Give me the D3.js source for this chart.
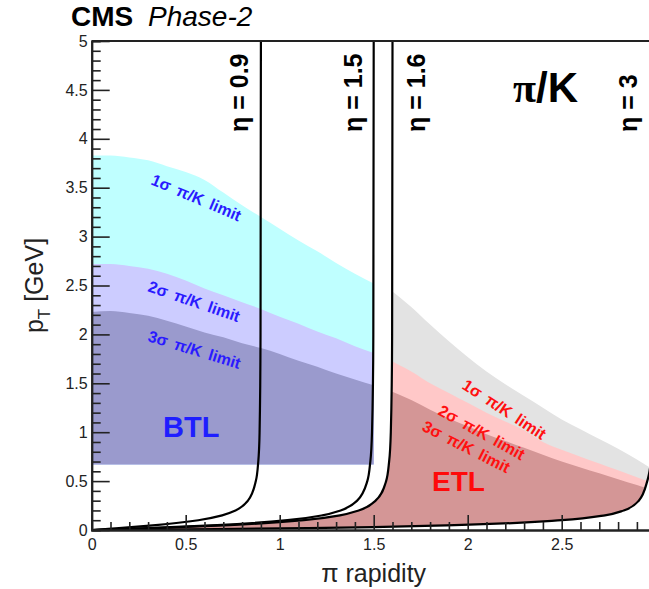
<!DOCTYPE html>
<html>
<head>
<meta charset="utf-8">
<script src="https://cdn.jsdelivr.net/npm/d3@7"></script>
<style>
  body { margin: 0; background: #fff; }
  text { font-family: "Liberation Sans", Arial, Helvetica, sans-serif; }
</style>
</head>
<body>
<div id="chart"></div>
<script>
// pT grid (GeV) used for the constant-eta curves
var ptGrid  = [0, 0.01, 0.02, 0.05, 0.1, 0.15, 0.2, 0.3, 0.5, 0.7, 1, 2, 5];
// pion rapidity reached by each eta boundary at those pT values
var eta09 = [0, 0.073, 0.145, 0.34, 0.567, 0.694, 0.765, 0.831, 0.873, 0.886, 0.893, 0.898, 0.9];
var eta15 = [0, 0.152, 0.298, 0.667, 1.041, 1.227, 1.324, 1.412, 1.466, 1.482, 1.491, 1.498, 1.5];
var eta16 = [0, 0.169, 0.331, 0.734, 1.128, 1.320, 1.420, 1.510, 1.566, 1.582, 1.591, 1.598, 1.6];
var eta30 = [0, 0.666, 1.15, 1.93, 2.50, 2.73, 2.83, 2.91, 2.955, 2.975, 2.988, 2.997, 3.0];

// BTL pi/K separation limits (pT vs rapidity)
var btlRap = [0, 0.1, 0.2, 0.3, 0.4, 0.5, 0.6, 0.7, 0.8, 0.9, 1.0, 1.1, 1.2, 1.3, 1.4, 1.5];
var btl1s  = [3.83, 3.83, 3.81, 3.78, 3.72, 3.66, 3.58, 3.45, 3.32, 3.20, 3.08, 2.96, 2.85, 2.73, 2.62, 2.52];
var btl2s  = [2.72, 2.72, 2.70, 2.67, 2.62, 2.55, 2.47, 2.40, 2.33, 2.26, 2.18, 2.11, 2.03, 1.96, 1.88, 1.81];
var btl3s  = [2.23, 2.24, 2.22, 2.19, 2.14, 2.08, 2.02, 1.97, 1.91, 1.86, 1.80, 1.73, 1.67, 1.60, 1.54, 1.48];
var btlMin = 0.67;

// ETL pi/K separation limits
var etlRap = [1.58, 1.7, 1.8, 1.9, 2.0, 2.1, 2.2, 2.3, 2.4, 2.5, 2.6, 2.7, 2.8, 2.9, 3.0];
var etl1s  = [2.47, 2.28, 2.10, 1.93, 1.77, 1.62, 1.49, 1.37, 1.25, 1.13, 1.03, 0.93, 0.83, 0.72, 0.60];
var etl2s  = [1.74, 1.62, 1.50, 1.40, 1.30, 1.20, 1.11, 1.02, 0.90, 0.82, 0.75, 0.68, 0.61, 0.54, 0.47];
var etl3s  = [1.43, 1.33, 1.23, 1.14, 1.06, 0.98, 0.91, 0.84, 0.77, 0.70, 0.64, 0.58, 0.52, 0.46, 0.40];

var etaNames = ["η = 0.9", "η = 1.5", "η = 1.6", "η = 3"];
var limitNames = ["1σ π/K limit", "2σ π/K limit", "3σ π/K limit"];
var xTicks = [0, 0.5, 1, 1.5, 2, 2.5];
var yTicks = [0, 0.5, 1, 1.5, 2, 2.5, 3, 3.5, 4, 4.5, 5];

var width = 649, height = 589;
var svg = d3.select("#chart").append("svg")
	.attr("width", width)
	.attr("height", height);

var x = d3.scaleLinear().domain([0, 3]).range([91.7, 655.7]);
var y = d3.scaleLinear().domain([0, 5]).range([530, 41]);

function pts(rap, pt) {
	return rap.map(function(r, i) { return [r, pt[i]]; });
}

var curve = d3.line()
	.x(function(d) { return x(d[0]); })
	.y(function(d) { return y(d[1]); })
	.curve(d3.curveMonotoneY);

// clip: plot frame
var defs = svg.append("defs");
defs.append("clipPath").attr("id", "frame")
	.append("rect")
	.attr("x", x(0)).attr("y", y(5))
	.attr("width", x(3) - x(0)).attr("height", y(0) - y(5));

// clip: region between eta=1.6 and eta=3
var e16 = pts(eta16, ptGrid), e30 = pts(eta30, ptGrid).reverse();
defs.append("clipPath").attr("id", "etl")
	.append("path")
	.attr("d", curve(e16) + curve(e30).replace(/^M/, "L") + "Z");

var plot = svg.append("g").attr("clip-path", "url(#frame)");

// BTL bands
var btlArea = d3.area()
	.x(function(d) { return x(d[0]); })
	.y0(y(btlMin))
	.y1(function(d) { return y(d[1]); })
	.curve(d3.curveMonotoneX);

[[btl1s, "#bfffff"], [btl2s, "#ccccff"], [btl3s, "#9a9acd"]].forEach(function(b) {
	plot.append("path")
		.attr("d", btlArea(pts(btlRap, b[0])))
		.attr("fill", b[1]);
});

// ETL bands, filled down to the eta=1.6 / eta=3 boundaries
var etlArea = d3.area()
	.x(function(d) { return x(d[0]); })
	.y0(y(0))
	.y1(function(d) { return y(d[1]); })
	.curve(d3.curveMonotoneX);

var etlG = plot.append("g").attr("clip-path", "url(#etl)");
[[etl1s, "#e3e3e3"], [etl2s, "#ffc8c8"], [etl3s, "#d49696"]].forEach(function(b) {
	etlG.append("rect")
		.attr("x", x(0))
		.attr("y", y(b[0][0]))
		.attr("width", x(etlRap[0]) - x(0) + 1)
		.attr("height", y(0) - y(b[0][0]))
		.attr("fill", b[1]);
	etlG.append("path")
		.attr("d", etlArea(pts(etlRap, b[0])))
		.attr("fill", b[1]);
});

// constant eta curves
[eta09, eta15, eta16, eta30].forEach(function(e) {
	plot.append("path")
		.attr("d", curve(pts(e, ptGrid)))
		.attr("fill", "none")
		.attr("stroke", "#000")
		.attr("stroke-width", 2.2);
});

// axes
var tickFont = function(g) {
	g.selectAll("text")
		.attr("fill", "#222")
		.style("font-size", "16px")
		.style("font-family", "'Liberation Sans', Arial, sans-serif");
	g.select(".domain").attr("stroke", "#222").attr("stroke-width", 2);
	g.selectAll(".tick line").attr("stroke", "#222").attr("stroke-width", 1.6);
};

var xMinor = d3.range(0, 31).filter(function(i) { return i % 5; }).map(function(i) { return i / 10; });
var yMinor = d3.range(0, 51).filter(function(i) { return i % 5; }).map(function(i) { return i / 10; });

svg.append("g")
	.attr("transform", "translate(0," + y(0) + ")")
	.call(d3.axisBottom(x).tickValues(xMinor).tickSize(-8).tickFormat(""))
	.call(tickFont);
svg.append("g")
	.attr("transform", "translate(0," + y(0) + ")")
	.call(d3.axisBottom(x).tickValues(xTicks).tickSizeInner(-15).tickSizeOuter(0).tickPadding(9).tickFormat(String))
	.call(tickFont);

svg.append("g")
	.attr("transform", "translate(" + x(0) + ",0)")
	.call(d3.axisLeft(y).tickValues(yMinor).tickSize(-9).tickFormat(""))
	.call(tickFont);
svg.append("g")
	.attr("transform", "translate(" + x(0) + ",0)")
	.call(d3.axisLeft(y).tickValues(yTicks).tickSizeInner(-18).tickSizeOuter(0).tickPadding(4).tickFormat(String))
	.call(tickFont);

// top and right frame
svg.append("path")
	.attr("d", "M" + x(0) + "," + y(5) + "H" + x(3) + "V" + y(0))
	.attr("fill", "none")
	.attr("stroke", "#222")
	.attr("stroke-width", 2);

// axis titles
svg.append("text")
	.attr("x", x(1.5)).attr("y", 582)
	.attr("text-anchor", "middle")
	.style("font-size", "25px")
	.attr("fill", "#222")
	.text("π rapidity");

var yt = svg.append("text")
	.attr("transform", "translate(43," + y(2.5) + ") rotate(-90)")
	.attr("text-anchor", "middle")
	.style("font-size", "25px")
	.attr("fill", "#222");
yt.append("tspan").text("p");
yt.append("tspan").attr("dy", 7).style("font-size", "17px").text("T");
yt.append("tspan").attr("dy", -7).text(" [GeV]");

// header
svg.append("text").attr("x", 71).attr("y", 26)
	.style("font-size", "28px").style("font-weight", "bold").text("CMS");
svg.append("text").attr("x", 148).attr("y", 26)
	.style("font-size", "28px").style("font-style", "italic").text("Phase-2");

var pk = svg.append("text").attr("x", 513).attr("y", 102)
	.style("font-size", "42px").style("font-weight", "bold");
pk.append("tspan").style("font-family", "'Liberation Serif', 'DejaVu Serif', serif").text("π");
pk.append("tspan").text("/K");

// eta labels
var etaPos = [[248, 132], [362, 132], [425, 132], [637, 132]];
etaNames.forEach(function(t, i) {
	svg.append("text")
		.attr("transform", "translate(" + etaPos[i][0] + "," + etaPos[i][1] + ") rotate(-90)")
		.style("font-size", "25px")
		.style("font-weight", "bold")
		.attr("fill", "#000")
		.text(t);
});

// band labels
var btlLab = [[150, 184, 23], [147, 291, 19], [147, 341, 17]];
var etlLab = [[461, 388, 33], [437, 414, 29], [421, 430, 27]];
function bandLabels(pos, col) {
	limitNames.forEach(function(t, i) {
		svg.append("text")
			.attr("transform", "translate(" + pos[i][0] + "," + pos[i][1] + ") rotate(" + pos[i][2] + ")")
			.style("font-size", "16px")
			.style("font-weight", "bold")
			.style("word-spacing", "3px")
			.attr("fill", col)
			.text(t);
	});
}
bandLabels(btlLab, "#2a1aff");
bandLabels(etlLab, "#ff1010");

svg.append("text").attr("x", 163).attr("y", 437)
	.style("font-size", "29px").style("font-weight", "bold")
	.attr("fill", "#1e1eff").text("BTL");
svg.append("text").attr("x", 432).attr("y", 491)
	.style("font-size", "28px").style("font-weight", "bold")
	.attr("fill", "#ff0a0a").text("ETL");
</script>
</body>
</html>
